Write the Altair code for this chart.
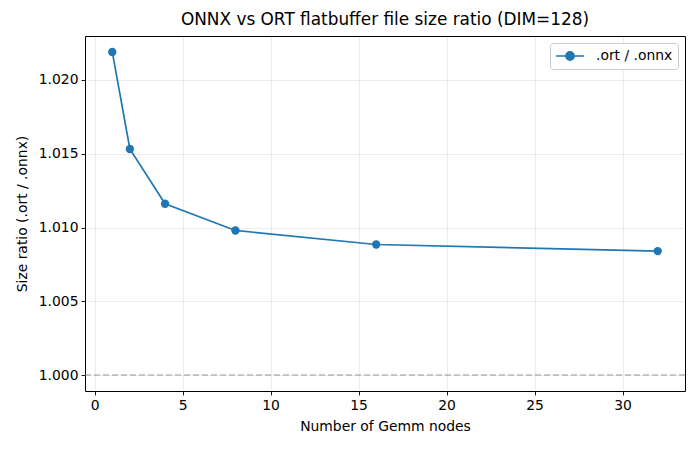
import altair as alt
import pandas as pd

# Gemm node counts and the .ort / .onnx file size ratio for each model
nodes = [1, 2, 4, 8, 16, 32]
ratio = [1.0219, 1.01532, 1.01161, 1.0098, 1.00885, 1.0084]
series = [".ort / .onnx"] * len(nodes)
baseline = [1.0]

df = pd.DataFrame({"nodes": nodes, "ratio": ratio, "series": series})
base_df = pd.DataFrame({"y": baseline})

FONT = "DejaVu Sans"
BLUE = "#1f77b4"

x_enc = alt.X(
    "nodes:Q",
    title="Number of Gemm nodes",
    scale=alt.Scale(domain=[-0.55, 33.55], nice=False, zero=False),
    axis=alt.Axis(values=[0, 5, 10, 15, 20, 25, 30], format="d"),
)
y_enc = alt.Y(
    "ratio:Q",
    title="Size ratio (.ort / .onnx)",
    scale=alt.Scale(domain=[0.99892, 1.02298], nice=False, zero=False),
    axis=alt.Axis(values=[1.0, 1.005, 1.01, 1.015, 1.02], format=".3f"),
)

# legend symbol: a line with a dot in its middle, drawn to the right of the anchor
legend_symbol = (
    "M-1,0 L3,0 "
    "M0.42,0 A0.58,0.58 0 1,1 1.58,0 A0.58,0.58 0 1,1 0.42,0 Z"
)

color_enc = alt.Color(
    "series:N",
    scale=alt.Scale(range=[BLUE]),
    legend=alt.Legend(
        title=None,
        orient="top-right",
        offset=7,
        symbolType=legend_symbol,
        symbolSize=196,
        symbolStrokeWidth=1.7,
        symbolFillColor=BLUE,
        symbolStrokeColor=BLUE,
        labelFontSize=13.9,
        labelFont=FONT,
        labelColor="#000000",
        strokeColor="#cccccc",
        fillColor="white",
        cornerRadius=3,
        padding=5,
        labelOffset=25,
    ),
)

line = alt.Chart(df).mark_line(strokeWidth=1.7).encode(x=x_enc, y=y_enc, color=color_enc)
points = alt.Chart(df).mark_point(filled=True, size=70, opacity=1).encode(
    x="nodes:Q", y="ratio:Q", color=color_enc
)
rule = alt.Chart(base_df).mark_rule(
    color="#808080", strokeDash=[6, 3], strokeWidth=1.4, opacity=0.55
).encode(y="y:Q")

chart = (
    alt.layer(rule, line, points)
    .properties(
        width=600,
        height=355,
        autosize=alt.AutoSizeParams(type="none"),
        padding={"left": 85, "top": 36, "right": 15, "bottom": 59},
        title=alt.Title(
            "ONNX vs ORT flatbuffer file size ratio (DIM=128)",
            font=FONT,
            fontSize=16.9,
            fontWeight="normal",
            color="#000000",
            anchor="middle",
            offset=7,
        ),
    )
    .configure_view(stroke="#000000", strokeWidth=1)
    .configure_axis(
        labelFont=FONT,
        titleFont=FONT,
        labelFontSize=13.9,
        titleFontSize=13.9,
        titleFontWeight="normal",
        labelColor="#000000",
        titleColor="#000000",
        domain=False,
        tickColor="#000000",
        tickSize=4,
        tickWidth=0.9,
        labelPadding=3,
        grid=True,
        gridColor="#b0b0b0",
        gridOpacity=0.3,
        gridWidth=0.8,
    )
    .configure_axisX(titlePadding=8)
    .configure_axisY(titlePadding=9)
)

chart.save("out.html", embed_options={"renderer": "svg", "actions": False})
